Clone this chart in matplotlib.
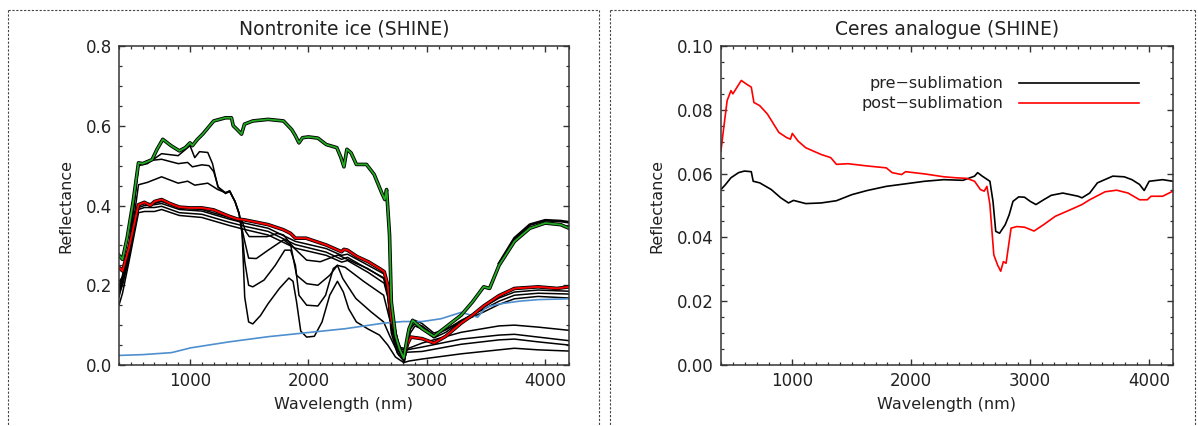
import numpy as np
import matplotlib.pyplot as plt
from matplotlib.ticker import MultipleLocator
from matplotlib.lines import Line2D

plt.rcParams['font.family'] = ['DejaVu Sans']

# ---- Nontronite ice (left) ----
green_wl = [400, 430, 470, 520, 565, 600, 640, 680, 720, 770, 840, 910, 960, 1000, 1020, 1060,
            1110, 1200, 1300, 1350, 1365, 1400, 1435, 1460, 1530, 1660, 1790, 1860, 1890, 1920,
            1950, 2000, 2080, 2150, 2240, 2275, 2300, 2325, 2360, 2405, 2490, 2555, 2620, 2645,
            2660, 2685, 2700, 2735, 2770, 2805, 2830, 2850, 2880, 2960, 3060, 3160, 3290, 3385,
            3480, 3530, 3610, 3740, 3870, 4000, 4130, 4200]
green_r = [0.275, 0.265, 0.32, 0.41, 0.507, 0.505, 0.51, 0.515, 0.54, 0.566, 0.55, 0.537, 0.545,
           0.557, 0.55, 0.565, 0.58, 0.612, 0.62, 0.62, 0.60, 0.59, 0.579, 0.604, 0.612, 0.616,
           0.612, 0.59, 0.575, 0.557, 0.57, 0.572, 0.569, 0.553, 0.545, 0.52, 0.497, 0.541, 0.532,
           0.503, 0.503, 0.478, 0.431, 0.415, 0.44, 0.326, 0.158, 0.074, 0.04, 0.017, 0.06, 0.091,
           0.112, 0.091, 0.072, 0.095, 0.125, 0.158, 0.196, 0.192, 0.25, 0.31, 0.343, 0.356,
           0.352, 0.343]
gtop_wl = [3610, 3740, 3870, 4000, 4130, 4200]
gtop_r = [0.255, 0.318, 0.352, 0.363, 0.361, 0.358]

red_wl = [400, 430, 485, 565, 615, 665, 700, 760, 830, 910, 1000, 1100, 1200, 1330, 1400, 1460,
          1560, 1660, 1790, 1850, 1890, 1980, 2150, 2280, 2300, 2330, 2410, 2505, 2600, 2640,
          2670, 2700, 2750, 2805, 2837, 2865, 2960, 3060, 3160, 3290, 3385, 3480, 3610, 3740,
          3940, 4100, 4200]
red_r = [0.245, 0.236, 0.295, 0.402, 0.408, 0.40, 0.41, 0.415, 0.405, 0.396, 0.394, 0.394, 0.389,
         0.373, 0.366, 0.364, 0.358, 0.352, 0.339, 0.33, 0.318, 0.318, 0.301, 0.284, 0.29, 0.288,
         0.272, 0.259, 0.242, 0.234, 0.2, 0.116, 0.057, 0.017, 0.053, 0.07, 0.066, 0.055, 0.072,
         0.105, 0.125, 0.148, 0.174, 0.192, 0.196, 0.192, 0.196]

bund_wl = [400, 430, 485, 565, 615, 700, 760, 910, 1100, 1330, 1460, 1660, 1890, 2150, 2280,
           2330, 2505, 2640, 2670, 2700, 2750, 2810, 2860, 2900, 2960, 3060, 3160, 3290, 3480,
           3610, 3740, 3940, 4200]
bund1 = [0.21, 0.22, 0.28, 0.395, 0.40, 0.402, 0.405, 0.39, 0.386, 0.366, 0.356, 0.343, 0.31,
         0.292, 0.275, 0.278, 0.25, 0.228, 0.19, 0.10, 0.05, 0.012, 0.08, 0.098, 0.09, 0.068,
         0.082, 0.11, 0.145, 0.168, 0.183, 0.188, 0.185]
bund2 = [0.18, 0.2, 0.27, 0.39, 0.395, 0.395, 0.398, 0.382, 0.378, 0.358, 0.348, 0.335, 0.302,
         0.283, 0.265, 0.27, 0.24, 0.218, 0.18, 0.09, 0.04, 0.01, 0.09, 0.105, 0.098, 0.075,
         0.088, 0.112, 0.14, 0.16, 0.175, 0.18, 0.178]
bund3 = [0.15, 0.18, 0.26, 0.382, 0.385, 0.385, 0.39, 0.375, 0.37, 0.35, 0.34, 0.326, 0.293,
         0.275, 0.258, 0.262, 0.232, 0.205, 0.17, 0.08, 0.03, 0.008, 0.1, 0.112, 0.104, 0.08,
         0.09, 0.108, 0.133, 0.152, 0.166, 0.172, 0.168]

d1_wl = [400, 430, 485, 565, 640, 760, 900, 1000, 1040, 1080, 1150, 1190, 1235, 1300, 1335,
         1380, 1415, 1440, 1462, 1495, 1530, 1595, 1660, 1755, 1835, 1870, 1900, 1935, 1985,
         2050, 2115, 2180, 2245, 2295, 2340, 2405, 2505, 2600, 2670, 2735, 2805, 2850, 2960,
         3290, 3610, 3740, 3940, 4200]
d1_r = [0.20, 0.22, 0.30, 0.50, 0.505, 0.53, 0.525, 0.55, 0.52, 0.535, 0.533, 0.505, 0.447,
        0.432, 0.437, 0.41, 0.38, 0.33, 0.17, 0.108, 0.103, 0.124, 0.154, 0.192, 0.218, 0.21,
        0.158, 0.085, 0.07, 0.072, 0.108, 0.175, 0.21, 0.183, 0.141, 0.108, 0.09, 0.075, 0.05,
        0.02, 0.006, 0.01, 0.015, 0.028, 0.038, 0.042, 0.038, 0.035]

d2_wl = [400, 485, 565, 640, 760, 900, 980, 1020, 1100, 1160, 1200, 1240, 1300, 1335, 1380,
         1415, 1440, 1462, 1495, 1530, 1625, 1720, 1800, 1850, 1890, 1920, 1985, 2080, 2145,
         2210, 2245, 2290, 2400, 2530, 2635, 2685, 2765, 2830, 2960, 3290, 3610, 3740, 3940,
         4200]
d2_r = [0.19, 0.29, 0.50, 0.512, 0.516, 0.505, 0.508, 0.497, 0.502, 0.50, 0.485, 0.445, 0.43,
        0.435, 0.41, 0.38, 0.33, 0.26, 0.2, 0.196, 0.213, 0.25, 0.288, 0.288, 0.25, 0.175, 0.15,
        0.148, 0.175, 0.242, 0.25, 0.217, 0.167, 0.133, 0.108, 0.074, 0.024, 0.032, 0.034,
        0.052, 0.063, 0.065, 0.058, 0.05]

d3_wl = [400, 485, 565, 640, 760, 900, 980, 1040, 1150, 1235, 1300, 1335, 1380, 1415, 1440,
         1462, 1495, 1560, 1660, 1790, 1850, 1900, 1985, 2080, 2180, 2245, 2310, 2470, 2635,
         2685, 2765, 2830, 2960, 3290, 3610, 3740, 3940, 4200]
d3_r = [0.18, 0.28, 0.452, 0.458, 0.472, 0.456, 0.461, 0.451, 0.456, 0.44, 0.432, 0.436, 0.41,
        0.378, 0.34, 0.31, 0.268, 0.267, 0.288, 0.314, 0.301, 0.225, 0.204, 0.2, 0.225, 0.25,
        0.245, 0.209, 0.175, 0.116, 0.04, 0.038, 0.045, 0.065, 0.075, 0.077, 0.07, 0.061]

d4_wl = [400, 485, 565, 615, 700, 760, 910, 1100, 1330, 1440, 1470, 1500, 1650, 1740, 1790,
         1880, 1985, 2100, 2250, 2400, 2500, 2635, 2685, 2765, 2830, 2960, 3290, 3610, 3740,
         3940, 4200]
d4_r = [0.17, 0.27, 0.40, 0.405, 0.405, 0.41, 0.395, 0.39, 0.37, 0.36, 0.335, 0.322, 0.322,
        0.33, 0.326, 0.293, 0.263, 0.259, 0.276, 0.255, 0.242, 0.217, 0.158, 0.045, 0.04, 0.055,
        0.082, 0.098, 0.1, 0.095, 0.087]

blue_wl = [400, 600, 844, 1006, 1330, 1660, 1985, 2310, 2635, 2800, 2960, 3120, 3290, 3430,
           3500, 3610, 3780, 3940, 4200]
blue_r = [0.024, 0.026, 0.031, 0.043, 0.058, 0.071, 0.081, 0.091, 0.105, 0.109, 0.109, 0.116,
          0.132, 0.12, 0.145, 0.153, 0.16, 0.164, 0.166]

# ---- Ceres analogue (right) ----
post_wl = [400, 420, 452, 484, 500, 532, 571, 613, 655, 677, 726, 790, 887, 952, 984, 1000,
           1048, 1113, 1242, 1323, 1371, 1468, 1629, 1790, 1839, 1919, 1952, 2113, 2274, 2371,
           2468, 2532, 2581, 2613, 2636, 2661, 2694, 2726, 2752, 2774, 2797, 2839, 2887, 2952,
           3032, 3113, 3210, 3339, 3435, 3500, 3629, 3726, 3823, 3919, 3984, 4016, 4113, 4200]
post_r = [0.0671, 0.0734, 0.0829, 0.086, 0.085, 0.0869, 0.0892, 0.0881, 0.0871, 0.0823, 0.0813,
          0.0787, 0.0729, 0.0713, 0.0708, 0.0726, 0.0702, 0.0681, 0.066, 0.065, 0.0629, 0.0631,
          0.0624, 0.0618, 0.0603, 0.0597, 0.0606, 0.0599, 0.059, 0.0587, 0.0585, 0.0576, 0.055,
          0.0545, 0.056, 0.0503, 0.0345, 0.0313, 0.0294, 0.0324, 0.0319, 0.0429, 0.0434, 0.0432,
          0.042, 0.044, 0.0466, 0.0487, 0.0503, 0.0518, 0.0543, 0.0548, 0.0539, 0.0518, 0.0518,
          0.0529, 0.0529, 0.0545]
pre_wl = [400, 439, 484, 548, 597, 655, 671, 726, 823, 903, 968, 1010, 1113, 1242, 1371, 1500,
          1629, 1790, 1952, 2113, 2274, 2435, 2532, 2558, 2597, 2661, 2687, 2710, 2742, 2790,
          2823, 2855, 2903, 2952, 3000, 3048, 3113, 3177, 3274, 3339, 3403, 3435, 3500, 3565,
          3694, 3790, 3855, 3919, 3958, 4000, 4113, 4200]
pre_r = [0.055, 0.0566, 0.0587, 0.0603, 0.0608, 0.0606, 0.0576, 0.0571, 0.055, 0.0524, 0.0508,
         0.0516, 0.0506, 0.0508, 0.0515, 0.0534, 0.0547, 0.056, 0.0568, 0.0576, 0.0581, 0.0579,
         0.0592, 0.0603, 0.0592, 0.0576, 0.0513, 0.0419, 0.0413, 0.044, 0.0471, 0.0513, 0.0527,
         0.0526, 0.0513, 0.0503, 0.0518, 0.0532, 0.0539, 0.0534, 0.0529, 0.0524, 0.0539, 0.0571,
         0.0592, 0.059, 0.0581, 0.0566, 0.0547, 0.0576, 0.0581, 0.0576]

txt = '#222222'
fig = plt.figure(figsize=(11.98, 4.26), dpi=100)
ax1 = fig.add_axes([0.0993, 0.1432, 0.3756, 0.7488])
ax2 = fig.add_axes([0.6018, 0.1432, 0.3773, 0.7488])

for wl, r in [(d1_wl, d1_r), (d2_wl, d2_r), (d3_wl, d3_r), (d4_wl, d4_r),
              (bund_wl, bund1), (bund_wl, bund2), (bund_wl, bund3)]:
    ax1.plot(wl, r, color='black', lw=1.1)
ax1.plot(blue_wl, blue_r, color='#4f8fcf', lw=1.2)
ax1.plot(red_wl, red_r, color='black', lw=2.6)
ax1.plot(red_wl, red_r, color='red', lw=1.4)
ax1.plot(gtop_wl, gtop_r, color='black', lw=2.0)
ax1.plot(green_wl, green_r, color='black', lw=2.6)
ax1.plot(green_wl, green_r, color='#22aa22', lw=1.3)
ax1.set_ylim(0, 0.8)
ax1.yaxis.set_major_locator(MultipleLocator(0.2))
ax1.yaxis.set_minor_locator(MultipleLocator(0.05))
ax1.set_title('Nontronite ice (SHINE)', fontsize=13.5, color=txt, pad=8)

ax2.plot(pre_wl, pre_r, color='black', lw=1.2, label='pre\u2212sublimation')
ax2.plot(post_wl, post_r, color='red', lw=1.2, label='post\u2212sublimation')
ax2.set_ylim(0, 0.1)
ax2.yaxis.set_major_locator(MultipleLocator(0.02))
ax2.yaxis.set_minor_locator(MultipleLocator(0.005))
ax2.set_title('Ceres analogue (SHINE)', fontsize=13.5, color=txt, pad=8)
ax2.legend(loc='upper right', bbox_to_anchor=(0.925, 0.905), markerfirst=False, frameon=False,
           handlelength=7.5, handletextpad=1.0, labelspacing=0.3, fontsize=11.5,
           borderpad=0, borderaxespad=0, labelcolor=txt)

for ax in (ax1, ax2):
    ax.set_xlim(400, 4200)
    ax.xaxis.set_major_locator(MultipleLocator(1000))
    ax.xaxis.set_minor_locator(MultipleLocator(100))
    ax.tick_params(which='both', direction='in', top=True, right=True, colors='#333333',
                   labelcolor=txt, labelsize=12)
    ax.tick_params(which='major', length=4.5, width=1.0, pad=5)
    ax.tick_params(which='minor', length=2.2, width=0.9)
    for s in ax.spines.values():
        s.set_linewidth(1.1)
        s.set_color('#333333')
    ax.set_xlabel('Wavelength (nm)', fontsize=11.5, color=txt, labelpad=5)
    ax.set_ylabel('Reflectance', fontsize=11.5, color=txt, labelpad=9)

# dotted panel frames
W, H = 1198.0, 426.0
for x0, x1 in [(8, 599), (610, 1195)]:
    for xs, ys in [([x0, x1], [10, 10]), ([x0, x0], [10, 430]), ([x1, x1], [10, 430])]:
        fig.add_artist(Line2D([x / W for x in xs], [1 - y / H for y in ys], lw=0.8,
                              color='#444444', linestyle=(0, (2, 1.5))))

plt.savefig('out.png', dpi=100)
